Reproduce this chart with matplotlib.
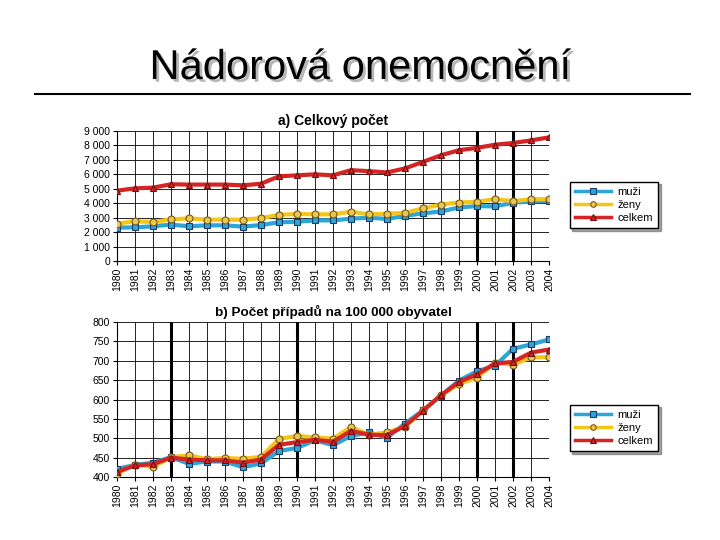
import numpy as np
import matplotlib.pyplot as plt
import matplotlib.patheffects as pe

plt.rcParams['font.family'] = ['Liberation Sans', 'DejaVu Sans']

years = list(range(1980, 2005))

# a) Celkovy pocet
muzi_a = [2310, 2330, 2400, 2520, 2400, 2470, 2470, 2380, 2490, 2680, 2720, 2810, 2810,
          2930, 3000, 2910, 3130, 3300, 3430, 3710, 3800, 3780, 4030, 4120, 4160]
zeny_a = [2590, 2750, 2700, 2880, 2950, 2860, 2860, 2860, 2970, 3200, 3250, 3230, 3230,
          3410, 3230, 3270, 3340, 3640, 3910, 4050, 4100, 4280, 4140, 4280, 4280]
celkem_a = [4870, 5030, 5080, 5310, 5290, 5290, 5290, 5240, 5350, 5860, 5930, 6000, 5930,
            6290, 6220, 6130, 6410, 6860, 7320, 7670, 7830, 8050, 8170, 8350, 8560]

# b) Pocet pripadu na 100 000 obyvatel
muzi_b = [421, 431, 437, 451, 434, 440, 440, 425, 435, 467, 475, 495, 482, 506, 515,
          501, 538, 572, 610, 649, 673, 687, 731, 742, 755]
zeny_b = [409, 432, 426, 451, 456, 446, 449, 447, 452, 498, 506, 502, 499, 529, 509,
          515, 530, 572, 611, 640, 656, 695, 690, 709, 709]
celkem_b = [413, 430, 433, 450, 445, 443, 443, 437, 445, 483, 490, 496, 491, 519, 509,
            508, 532, 571, 611, 645, 665, 693, 697, 721, 729]

labels = ['muži', 'ženy', 'celkem']

fig = plt.figure(figsize=(7.2, 5.4), dpi=100)

fig.text(0.5, 1 - 68 / 540, 'Nádorová onemocnění', ha='center', va='center', fontsize=30,
         color='black',
         path_effects=[pe.withSimplePatchShadow(offset=(2, -2), shadow_rgbFace='#888888', alpha=0.6)])
fig.add_artist(plt.Line2D([35 / 720, 690 / 720], [1 - 94 / 540, 1 - 94 / 540], color='black', lw=1.5))


def draw(ax, m, z, c, ticks, ticklabels, thick_years, title, title_fs, leg_y):
    ax.set_xlim(1980, 2004)
    ax.set_ylim(ticks[0], ticks[-1])
    for t in ticks:
        ax.axhline(t, color='black', lw=0.6, zorder=0)
    for yr in years:
        ax.axvline(yr, color='black', lw=2.2 if yr in thick_years else 0.6, zorder=0)
    l1, = ax.plot(years, m, color='#2aa6d8', lw=3, marker='s', ms=5, mfc='#2aa6d8',
                  mec='#1a3d6e', mew=0.8, zorder=3)
    l2, = ax.plot(years, z, color='#f5c518', lw=3, marker='o', ms=5, mfc='#e8c850',
                  mec='#7a5a10', mew=0.8, zorder=3)
    l3, = ax.plot(years, c, color='#d42424', lw=3, marker='^', ms=5, mfc='#d42424',
                  mec='#6e1010', mew=0.8, zorder=4)
    ax.set_yticks(ticks)
    ax.set_yticklabels(ticklabels, fontsize=7.5)
    ax.set_xticks(years)
    ax.set_xticklabels([str(y) for y in years], rotation=90, fontsize=7.5)
    ax.tick_params(length=3, width=0.8, pad=2)
    for s in ax.spines.values():
        s.set_visible(False)
    ax.spines['left'].set_visible(True)
    ax.spines['bottom'].set_visible(True)
    ax.set_title(title, fontsize=title_fs, fontweight='bold', pad=4)
    leg = fig.legend([l1, l2, l3], labels, loc='upper left',
                     bbox_to_anchor=(564 / 720, 1 - leg_y / 540), fontsize=8,
                     handlelength=3.2, handletextpad=0.6, borderpad=0.5, labelspacing=0.25,
                     fancybox=False, shadow=True, framealpha=1, edgecolor='black')
    for h in leg.legend_handles:
        h.set_markersize(4)
        h.set_linewidth(2.5)


ax1 = fig.add_axes([117 / 720, 1 - 261 / 540, 432 / 720, 130 / 540])
t1 = list(range(0, 9001, 1000))
draw(ax1, muzi_a, zeny_a, celkem_a, t1, ['{:,}'.format(t).replace(',', ' ') for t in t1],
     [2000, 2002], 'a) Celkový počet', 10, 176)

ax2 = fig.add_axes([117 / 720, 1 - 477 / 540, 432 / 720, 155 / 540])
t2 = list(range(400, 801, 50))
draw(ax2, muzi_b, zeny_b, celkem_b, t2, [str(t) for t in t2],
     [1983, 1990, 2000, 2002], 'b) Počet případů na 100 000 obyvatel', 9.7, 399)

fig.savefig('out.png', dpi=100)
